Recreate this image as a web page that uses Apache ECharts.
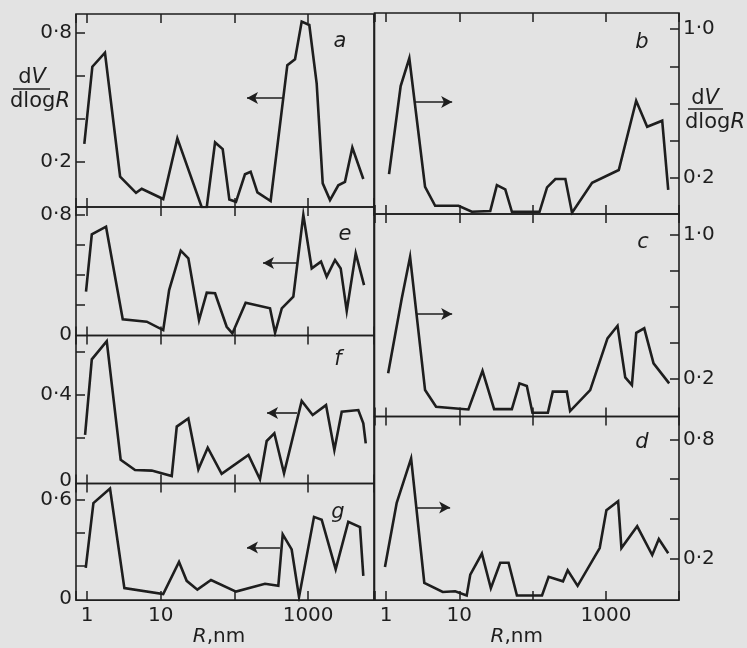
<!DOCTYPE html>
<html><head><meta charset="utf-8">
<script src="https://cdn.jsdelivr.net/npm/echarts@6/dist/echarts.min.js"></script>
<style>html,body{margin:0;padding:0;background:#e3e3e3;}#c{width:747px;height:648px;}</style>
</head><body><div id="c"></div>
<script>
// ---- data (R in nm, dV/dlogR) ----
const R_a = [0.918,1.18,1.75,2.81,4.62,5.52,10.8,16.8,36.0,42.1,54.6,69.3,85.3,105,139,166,205,310,522,664,818,1038,1306,1578,1982,2570,3162,3981,5610];
const V_a = [0.284,0.643,0.708,0.132,0.057,0.076,0.028,0.31,-0.01,-0.01,0.291,0.26,0.026,0.015,0.143,0.155,0.059,0.019,0.65,0.678,0.853,0.837,0.566,0.101,0.023,0.092,0.108,0.267,0.121];
const R_e = [0.968,1.16,1.81,3.05,6.46,10.8,13.0,18.7,23.7,33.1,42.1,54.6,78.5,93.8,142,304,356,439,630,861,1119,1496,1786,2317,2767,3342,4426,5741];
const V_e = [0.289,0.671,0.722,0.105,0.089,0.033,0.3,0.562,0.511,0.1,0.282,0.278,0.055,0.011,0.215,0.178,0.015,0.178,0.256,0.8,0.444,0.489,0.389,0.5,0.444,0.16,0.544,0.333];
const R_f = [0.94,1.16,1.85,2.86,4.48,7.55,14.1,16.5,23.7,32.4,43.4,67.1,155,222,274,348,471,818,1153,1750,2270,2858,4797,5610,6053];
const V_f = [0.214,0.566,0.651,0.098,0.051,0.048,0.023,0.253,0.291,0.054,0.155,0.033,0.121,0.008,0.186,0.222,0.036,0.372,0.307,0.353,0.144,0.322,0.33,0.268,0.175];
const R_g = [0.96,1.22,2.05,3.21,10.8,17.7,22.5,31.4,48.1,105,260,394,452,598,753,1202,1528,2366,3508,5058,5610];
const V_g = [0.189,0.579,0.667,0.067,0.032,0.225,0.111,0.058,0.116,0.046,0.093,0.081,0.391,0.3,0.014,0.496,0.479,0.181,0.467,0.435,0.141];
const R_b = [1.10,1.585,2.08,3.41,4.68,9.75,14.8,26.4,32.5,42.3,52.1,124,157,204,279,344,646,1493,2576,3639,5834,7047];
const V_b = [0.221,0.694,0.843,0.153,0.051,0.051,0.019,0.023,0.162,0.139,0.019,0.019,0.15,0.195,0.195,0.014,0.175,0.243,0.615,0.475,0.508,0.136];
const R_c = [1.07,1.64,2.13,3.41,4.82,10.0,13.3,20.7,29.8,52.0,66.1,83.2,99.3,161,188,292,324,608,1047,1435,1828,2254,2582,3319,4446,7261];
const V_c = [0.232,0.648,0.879,0.139,0.046,0.035,0.031,0.246,0.033,0.033,0.176,0.161,0.013,0.013,0.13,0.13,0.022,0.139,0.426,0.496,0.209,0.167,0.457,0.482,0.287,0.176];
const R_d = [0.968,1.40,2.20,3.33,5.94,8.77,12.6,14.1,20.3,26.9,36.1,46.9,61.0,134,165,259,300,410,820,1012,1462,1622,2661,4266,5248,7047];
const V_d = [0.156,0.481,0.705,0.076,0.03,0.034,0.012,0.118,0.224,0.049,0.178,0.178,0.012,0.012,0.107,0.084,0.14,0.061,0.252,0.443,0.489,0.252,0.362,0.217,0.298,0.226];

// tick labels
const xTickLabels = [1, 10, 1000];
const xAxisName = '{i|R},nm';
const yTicks_a = [0.2,0.4,0.6,0.8], yLabels_a = [0.2,0.8];
const yTicks_e = [0.2,0.4,0.6,0.8], yLabels_e = [0,0.8];
const yTicks_f = [0.2,0.4,0.6],     yLabels_f = [0,0.4];
const yTicks_g = [0.2,0.4,0.6],     yLabels_g = [0,0.6];
const yTicks_b = [0.2,0.4,0.6,0.8,1.0], yLabels_b = [0.2,1.0];
const yTicks_c = [0.2,0.4,0.6,0.8,1.0], yLabels_c = [0.2,1.0];
const yTicks_d = [0.2,0.4,0.6,0.8], yLabels_d = [0.2,0.8];
// arrows (annotation, in data units): [fromR, toR, level]
const arrow_a = [456, 148, 0.498];
const arrow_e = [706, 244, 0.48];
const arrow_f = [706, 277, 0.316];
const arrow_g = [415, 148, 0.311];
const arrow_b = [2.49, 7.98, 0.608];
const arrow_c = [2.65, 7.98, 0.561];
const arrow_d = [2.65, 7.49, 0.457];

// ---- layout / style ----
const FONT = 'DejaVu Sans';
const INK = '#1e1e1e';
const L = {left:76, width:298, xmin:0.708, xmax:7834};
const Rt = {left:374.5, width:304.5, xmin:0.697, xmax:9886};
const panels = [
  {n:'a', R:R_a, V:V_a, col:L,  side:'left',  top:14,    h:193,   y:[-0.009,0.888], t:yTicks_a, l:yLabels_a, ar:arrow_a, xl:false, let:[340,42]},
  {n:'e', R:R_e, V:V_e, col:L,  side:'left',  top:207,   h:128.5, y:[-0.003,0.853], t:yTicks_e, l:yLabels_e, ar:arrow_e, xl:false, let:[345,235]},
  {n:'f', R:R_f, V:V_f, col:L,  side:'left',  top:335.5, h:148,   y:[-0.012,0.677], t:yTicks_f, l:yLabels_f, ar:arrow_f, xl:false, let:[338,360]},
  {n:'g', R:R_g, V:V_g, col:L,  side:'left',  top:483.5, h:133.5, y:[-0.005,0.697], t:yTicks_g, l:yLabels_g, ar:arrow_g, xl:true,  let:[338,513]},
  {n:'b', R:R_b, V:V_b, col:Rt, side:'right', top:13,    h:201,   y:[0.007,1.086],  t:yTicks_b, l:yLabels_b, ar:arrow_b, xl:false, let:[642,43]},
  {n:'c', R:R_c, V:V_c, col:Rt, side:'right', top:214,   h:202.5, y:[-0.008,1.117], t:yTicks_c, l:yLabels_c, ar:arrow_c, xl:false, let:[643,243]},
  {n:'d', R:R_d, V:V_d, col:Rt, side:'right', top:416.5, h:202.5, y:[-0.011,0.917], t:yTicks_d, l:yLabels_d, ar:arrow_d, xl:true,  let:[642,443]}
];

function yfmt(v){ if (Math.abs(v) < 1e-9) return '0'; return v.toFixed(1).replace('.', '\u00b7'); }
function xfmt(v){ const r = Number(v.toPrecision(6)); return xTickLabels.indexOf(r) >= 0 ? String(r) : ''; }

const grids = [], xAxes = [], yAxes = [], series = [];
const tickStyle = {color: INK, width: 1.5};
panels.forEach((p, i) => {
  grids.push({left: p.col.left, width: p.col.width, top: p.top, height: p.h,
    show: true, borderColor: INK, borderWidth: 1.6, backgroundColor: 'transparent', containLabel: false});
  ['bottom','top'].forEach(pos => {
    const showLab = p.xl && pos === 'bottom';
    xAxes.push({type:'log', logBase:10, gridIndex:i, position:pos, min:p.col.xmin, max:p.col.xmax,
      axisLine:{show:false, onZero:false}, splitLine:{show:false}, minorTick:{show:false},
      axisTick:{show:true, inside:true, length:9, lineStyle:tickStyle},
      axisLabel:{show:showLab, margin:6, fontFamily:FONT, fontSize:20, color:INK, formatter:xfmt},
      name: showLab ? xAxisName : '', nameLocation:'middle', nameGap:3,
      nameTextStyle:{fontFamily:FONT, fontSize:20, color:INK, verticalAlign:'top',
        padding: p.side === 'left' ? [0,12,0,0] : [0,20,0,0],
        rich:{i:{fontFamily:FONT, fontSize:20, fontStyle:'italic', color:INK}}}
    });
  });
  yAxes.push({type:'value', gridIndex:i, position:p.side, min:p.y[0], max:p.y[1],
    axisLine:{show:false, onZero:false}, splitLine:{show:false},
    axisTick:{show:true, inside:true, length:9, customValues:p.t, lineStyle:tickStyle},
    axisLabel:{show:true, customValues:p.l, formatter:yfmt, margin:4, fontFamily:FONT, fontSize:20, color:INK}
  });
  series.push({type:'line', xAxisIndex:2*i, yAxisIndex:i, data:p.R.map((r,k)=>[r,p.V[k]]),
    showSymbol:false, symbol:'none', clip:true, animation:false,
    lineStyle:{color:INK, width:2.6, join:'miter'},
    markLine:{silent:true, animation:false, symbol:['none','arrow'], symbolSize:[9,11],
      lineStyle:{color:INK, width:1.6, type:'solid'}, label:{show:false},
      data:[[{coord:[p.ar[0], p.ar[2]]},{coord:[p.ar[1], p.ar[2]]}]]}
  });
});

const graphic = panels.map(p => ({type:'text', x:p.let[0], y:p.let[1], silent:true,
  style:{text:p.n, font:'italic 21px "DejaVu Sans"', fill:INK, align:'center', verticalAlign:'middle'}}));
function frac(cx1, cy1, x1, x2, ly, cx2, cy2){
  return [
    {type:'text', x:cx1, y:cy1, style:{text:'{n|d}{i|V}', align:'center', verticalAlign:'middle',
      rich:{n:{font:'21px "DejaVu Sans"', fill:INK}, i:{font:'italic 21px "DejaVu Sans"', fill:INK}}}},
    {type:'line', shape:{x1:x1, y1:ly, x2:x2, y2:ly}, style:{stroke:INK, lineWidth:1.6}},
    {type:'text', x:cx2, y:cy2, style:{text:'{n|dlog}{i|R}', align:'center', verticalAlign:'middle',
      rich:{n:{font:'21px "DejaVu Sans"', fill:INK}, i:{font:'italic 21px "DejaVu Sans"', fill:INK}}}}
  ];
}
frac(32, 78, 13, 50, 89, 40, 102).forEach(g => graphic.push(g));
frac(705, 99, 688, 723, 109, 715, 123).forEach(g => graphic.push(g));

const chart = echarts.init(document.getElementById('c'), null, {renderer:'canvas'});
chart.setOption({backgroundColor:'#e3e3e3', animation:false, grid:grids, xAxis:xAxes, yAxis:yAxes, series:series, graphic:graphic});
</script></body></html>
